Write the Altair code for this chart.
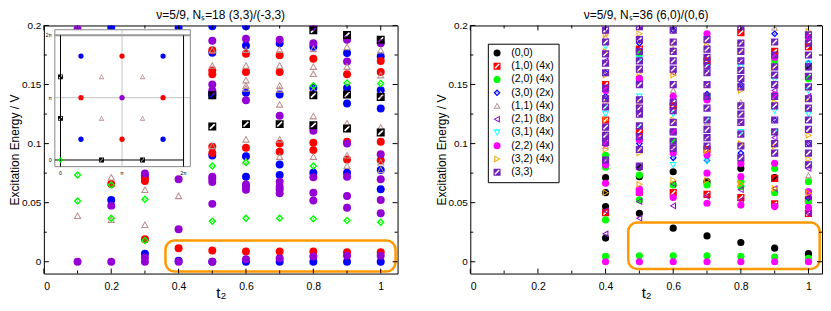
import altair as alt
import pandas as pd

FONT = "Liberation Sans"

# ---------------- tick positions ----------------
X_MAJOR = [0, 0.2, 0.4, 0.6, 0.8, 1.0]
X_MINOR = [0.1, 0.3, 0.5, 0.7, 0.9]
Y_MAJOR = [0, 0.05, 0.1, 0.15, 0.2]
Y_MINOR = [0.025, 0.075, 0.125, 0.175]

# ---------------- left panel: t2 -> excitation energies ----------------
L_BLUE = {0.2: [0.0523, 0.198], 0.3: [0.0068, 0.0726], 0.4: [0.0008, 0.198],
          0.5: [0.0, 0.090, 0.141, 0.143, 0.177, 0.1994],
          0.6: [0.0, 0.072, 0.0894, 0.143, 0.183, 0.1994],
          0.7: [0.0, 0.0734, 0.0824, 0.1415, 0.185],
          0.8: [0.0, 0.0754, 0.147, 0.182],
          0.9: [0.0, 0.0754, 0.134, 0.147, 0.1767],
          1.0: [0.0, 0.0613, 0.0776, 0.1297, 0.1451, 0.1738]}
L_RED = {0.2: [0.0658], 0.3: [0.0191, 0.0684, 0.0706], 0.4: [0.0115],
         0.5: [0.0096, 0.092, 0.0973, 0.1587, 0.162, 0.179],
         0.6: [0.0087, 0.0965, 0.1606, 0.176],
         0.7: [0.0087, 0.0931, 0.100, 0.1606, 0.1747],
         0.8: [0.0087, 0.0945, 0.1007, 0.1719],
         0.9: [0.008, 0.0866, 0.1015, 0.1587],
         1.0: [0.008, 0.086, 0.1015, 0.1606, 0.170]}
L_VIOLET = {0.1: [0.0, 0.197], 0.2: [0.0, 0.0475], 0.3: [0.0, 0.0037, 0.0748],
            0.4: [0.0, 0.0276, 0.0698],
            0.5: [0.0, 0.049, 0.0675, 0.070, 0.072, 0.145, 0.150, 0.187],
            0.6: [0.0022, 0.061, 0.0636, 0.0655, 0.1367, 0.1887],
            0.7: [0.003, 0.058, 0.0613, 0.0636, 0.0678, 0.1235, 0.188],
            0.8: [0.0045, 0.0518, 0.0585, 0.0715, 0.1108, 0.185, 0.199],
            0.9: [0.005, 0.0458, 0.0557, 0.072, 0.100, 0.1696, 0.188],
            1.0: [0.005, 0.041, 0.0523, 0.0698, 0.0911, 0.185]}
L_TRI = {0.1: [0.0388], 0.2: [0.0354, 0.0714], 0.3: [0.0312, 0.0608], 0.4: [0.0557],
         0.5: [0.098, 0.166, 0.179],
         0.6: [0.085, 0.1035, 0.1466, 0.149, 0.1536, 0.166, 0.1795],
         0.7: [0.0889, 0.1035, 0.133, 0.1457, 0.149, 0.166, 0.1795],
         0.8: [0.0889, 0.1232, 0.1451, 0.159, 0.165, 0.180],
         0.9: [0.0813, 0.090, 0.117, 0.1423, 0.165, 0.1817],
         1.0: [0.0776, 0.0841, 0.1136, 0.1418, 0.1578, 0.179]}
L_DIA = {0.1: [0.0515, 0.0734], 0.2: [0.0369, 0.065], 0.3: [0.018, 0.0529],
         0.5: [0.0343, 0.081], 0.6: [0.0369, 0.084], 0.7: [0.0369],
         0.8: [0.0363, 0.081, 0.149], 0.9: [0.0349, 0.1513], 1.0: [0.0335, 0.1508]}
L_SQ = {0.5: [0.1145, 0.141], 0.6: [0.1165], 0.7: [0.1165],
        0.8: [0.1156, 0.141, 0.196], 0.9: [0.1128, 0.1415, 0.192],
        1.0: [0.1094, 0.1395, 0.188]}

# ---------------- inset (Brillouin zone, units of pi) ----------------
INSET_BLUE = [(0.333, 1.667), (1.667, 1.667), (0.333, 0.333), (1.667, 0.333)]
INSET_RED = [(1.0, 1.667), (0.333, 1.0), (1.667, 1.0), (1.0, 0.333)]
INSET_VIOLET = [(1.0, 1.0)]
INSET_TRI = [(0.667, 1.333), (1.333, 1.333), (0.667, 0.667), (1.333, 0.667)]
INSET_SQ = [(0.0, 1.333), (0.0, 0.667), (0.667, 0.0), (1.333, 0.0)]
INSET_DIA = [(0.0, 0.0)]
INSET_LABELS = ["0", "π", "2π"]
INSET_LABEL_POS = [0, 1, 2]

# ---------------- right panel: t2 -> excitation energies ----------------
R_00 = {0.4: [0.020, 0.0467, 0.0585, 0.0712], 0.5: [0.041, 0.072, 0.080, 0.155],
        0.6: [0.0284, 0.0762], 0.7: [0.0219, 0.0678], 0.8: [0.0163, 0.079],
        0.9: [0.0115, 0.0712], 1.0: [0.0068, 0.0523, 0.165]}
R_10 = {0.4: [0.0416, 0.120, 0.150], 0.5: [0.059, 0.110, 0.180], 0.6: [0.0585, 0.132],
        0.7: [0.0571, 0.095, 0.170], 0.8: [0.0543, 0.194], 0.9: [0.049, 0.0705, 0.178],
        1.0: [0.041, 0.0523, 0.182]}
R_20 = {0.4: [0.0045, 0.0354, 0.080, 0.090], 0.5: [0.005, 0.0523, 0.0734, 0.176],
        0.6: [0.005, 0.065, 0.102], 0.7: [0.005, 0.065, 0.140], 0.8: [0.0045, 0.0636, 0.068],
        0.9: [0.004, 0.0585, 0.079, 0.170], 1.0: [0.0028, 0.051, 0.0678, 0.155]}
R_30 = {0.4: [0.140, 0.160], 0.5: [0.100, 0.185], 0.6: [0.088, 0.196], 0.7: [0.086, 0.142],
        0.8: [0.092, 0.150], 0.9: [0.193, 0.120], 1.0: [0.168, 0.100, 0.054]}
R_11 = {0.4: [0.098, 0.110, 0.190], 0.5: [0.095, 0.130], 0.6: [0.098, 0.145, 0.180],
        0.7: [0.118, 0.160], 0.8: [0.135, 0.185], 0.9: [0.198, 0.110], 1.0: [0.073, 0.130]}
R_21 = {0.4: [0.0236, 0.0433, 0.085, 0.145, 0.170], 0.5: [0.0369, 0.051, 0.125],
        0.6: [0.0473, 0.066, 0.110, 0.160], 0.7: [0.0555, 0.105, 0.150],
        0.8: [0.052, 0.061, 0.118, 0.170], 0.9: [0.062, 0.105, 0.145],
        1.0: [0.041, 0.0425, 0.055, 0.058, 0.079, 0.140]}
R_31 = {0.4: [0.125, 0.130, 0.182], 0.5: [0.140, 0.172, 0.115], 0.6: [0.082, 0.090, 0.125],
        0.7: [0.085, 0.165, 0.120], 0.8: [0.165, 0.110], 0.9: [0.154, 0.128, 0.110],
        1.0: [0.125, 0.145, 0.168]}
R_22 = {0.4: [0.0, 0.0664, 0.082, 0.145, 0.100], 0.5: [0.0, 0.0585, 0.0615, 0.155, 0.103],
        0.6: [0.0, 0.0543, 0.092, 0.110, 0.140], 0.7: [0.0, 0.0495, 0.075, 0.0903, 0.137, 0.193],
        0.8: [0.0, 0.048, 0.072, 0.083], 0.9: [0.0, 0.0467, 0.0833, 0.141, 0.173],
        1.0: [0.0, 0.046, 0.0593, 0.190]}
R_32 = {0.4: [0.0585, 0.095, 0.120, 0.135, 0.158, 0.178, 0.192],
        0.5: [0.0655, 0.092, 0.135, 0.160, 0.193], 0.6: [0.069, 0.120, 0.158, 0.185],
        0.7: [0.069, 0.094, 0.150, 0.183], 0.8: [0.066, 0.100, 0.145, 0.178],
        0.9: [0.062, 0.098, 0.135, 0.165], 1.0: [0.058, 0.087, 0.107, 0.138, 0.195]}
R_33 = {0.4: [0.196, 0.186, 0.176, 0.168, 0.160, 0.147, 0.138, 0.131, 0.114, 0.107, 0.101, 0.086],
        0.5: [0.199, 0.188, 0.178, 0.170, 0.163, 0.150, 0.137, 0.130, 0.125, 0.115, 0.106, 0.095, 0.081],
        0.6: [0.196, 0.186, 0.178, 0.170, 0.163, 0.150, 0.135, 0.128, 0.118, 0.110, 0.102, 0.096],
        0.7: [0.188, 0.180, 0.173, 0.166, 0.160, 0.150, 0.140, 0.130, 0.120, 0.112, 0.105, 0.098],
        0.8: [0.199, 0.185, 0.178, 0.170, 0.162, 0.155, 0.148, 0.132, 0.125, 0.118, 0.108, 0.098, 0.088],
        0.9: [0.186, 0.175, 0.165, 0.158, 0.150, 0.140, 0.132, 0.120, 0.110, 0.100, 0.092],
        1.0: [0.192, 0.185, 0.175, 0.165, 0.157, 0.148, 0.138, 0.130, 0.120, 0.112, 0.100, 0.092, 0.082]}

R_LABELS = ["(0,0)", "(1,0) (4x)", "(2,0) (4x)", "(3,0) (2x)", "(1,1) (4x)",
            "(2,1) (8x)", "(3,1) (4x)", "(2,2) (4x)", "(3,2) (4x)", "(3,3)"]

# highlighted low-energy regions (t2 from, t2 to, E from, E to)
LEFT_BOX = [0.361, 1.044, -0.0082, 0.018]
RIGHT_BOX = [0.467, 1.033, -0.0062, 0.0332]

# ---------------- symbols ----------------
SQ_HATCH = "M-1,-1H1V1H-1Z M-0.75,0.45L-0.45,0.75L0.75,-0.45L0.45,-0.75Z"
DIA_OPEN = "M0,-1L1,0L0,1L-1,0Z M0,-0.5L-0.5,0L0,0.5L0.5,0Z M0,-0.18L0.18,0L0,0.18L-0.18,0Z"
TRI_UP = "M0,-1L1,0.8L-1,0.8Z M0,-0.49L-0.55,0.5L0.55,0.5Z"
TRI_LEFT = "M-1,0L0.8,-1L0.8,1Z M-0.49,0L0.5,0.55L0.5,-0.55Z"
TRI_RIGHT = "M1,0L-0.8,1L-0.8,-1Z M0.49,0L-0.5,-0.55L-0.5,0.55Z"
TRI_DOWN = "M0,1L-1,-0.8L1,-0.8Z M0,0.49L0.55,-0.5L-0.55,-0.5Z"

W_L, W_R, H = 355, 353, 249
ORANGE = "#ff9900"


def to_long(series):
    rows = []
    i = 0
    for name, d in series:
        for t, vals in d.items():
            for e in vals:
                rows.append({"series": name, "t": t, "E": e, "idx": i})
                i += 1
    return pd.DataFrame(rows)


XS_L = alt.Scale(domain=[0, 1.05], nice=False, zero=False)
XS_R = alt.Scale(domain=[0, 1.04], nice=False, zero=False)
YS = alt.Scale(domain=[-0.01, 0.2], nice=False, zero=False)

x_axis = alt.Axis(values=X_MAJOR, format="~g", ticks=False, domain=False, grid=False,
                  labelPadding=8, labelFontSize=10.5, labelFont=FONT, labelColor="black",
                  title="t₂", titleFontSize=15, titleFont=FONT, titleFontWeight="normal",
                  titlePadding=-6, titleColor="black")
y_axis = alt.Axis(values=Y_MAJOR, format="~g", ticks=False, domain=False, grid=False,
                  labelPadding=3, labelFontSize=10, labelFont=FONT, labelColor="black",
                  title="Excitation Energy / V", titleFontSize=12, titleFont=FONT,
                  titleFontWeight="normal", titlePadding=0, titleColor="black",
                  minExtent=22, maxExtent=22)

TITLE_KW = dict(font=FONT, fontSize=12, fontWeight="normal", offset=-2, color="black",
                frame="group")


def tick_layers(W, XS):
    layers = []
    for vals, ln in [(X_MAJOR, 5), (X_MINOR, 3)]:
        df = pd.DataFrame({"v": vals})
        base = alt.Chart(df).mark_rule(color="black", strokeWidth=1)
        layers.append(base.encode(x=alt.X("v:Q", scale=XS), y=alt.value(0), y2=alt.value(ln)))
        layers.append(base.encode(x=alt.X("v:Q", scale=XS), y=alt.value(H), y2=alt.value(H - ln)))
    for vals, ln in [(Y_MAJOR, 5), (Y_MINOR, 3)]:
        df = pd.DataFrame({"v": vals})
        base = alt.Chart(df).mark_rule(color="black", strokeWidth=1)
        layers.append(base.encode(y=alt.Y("v:Q", scale=YS), x=alt.value(0), x2=alt.value(ln)))
        layers.append(base.encode(y=alt.Y("v:Q", scale=YS), x=alt.value(W), x2=alt.value(W - ln)))
    return layers


def box_layer(b, XS):
    df = pd.DataFrame({"x": [b[0]], "x2": [b[1]], "y": [b[2]], "y2": [b[3]]})
    return alt.Chart(df).mark_rect(fill="transparent", stroke=ORANGE, strokeWidth=2.5,
                                   cornerRadius=9).encode(
        x=alt.X("x:Q", scale=XS), x2="x2", y=alt.Y("y:Q", scale=YS), y2="y2")


# ---------------- left panel ----------------
left_series = [("blue", L_BLUE), ("red", L_RED), ("violet", L_VIOLET),
               ("tri", L_TRI), ("dia", L_DIA), ("sq", L_SQ)]
ldf = to_long(left_series)
left_pts = alt.Chart(ldf).mark_point(filled=True, strokeWidth=0, opacity=1, clip=True).encode(
    x=alt.X("t:Q", scale=XS_L, axis=x_axis),
    y=alt.Y("E:Q", scale=YS, axis=y_axis),
    color=alt.Color("series:N", legend=None,
                    scale=alt.Scale(domain=["blue", "red", "violet", "tri", "dia", "sq"],
                                    range=["#0000ff", "#ff0000", "#9400d3", "#bc8f8f", "#00ff00", "#000000"])),
    shape=alt.Shape("series:N", legend=None,
                    scale=alt.Scale(domain=["blue", "red", "violet", "tri", "dia", "sq"],
                                    range=["circle", "circle", "circle", TRI_UP, DIA_OPEN, SQ_HATCH])),
    size=alt.value(64),
    order=alt.Order("idx:Q"),
)
left_main = alt.layer(left_pts, box_layer(LEFT_BOX, XS_L), *tick_layers(W_L, XS_L))

IX = alt.Scale(domain=[-0.092, 2.11], range=[11, 147], nice=False, zero=False)
IY = alt.Scale(domain=[-0.107, 2.09], range=[141.7, 4.3], nice=False, zero=False)


def inset_rule(x, x2, y, y2, color, sw):
    df = pd.DataFrame({"x": [x], "x2": [x2], "y": [y], "y2": [y2]})
    return alt.Chart(df).mark_rule(color=color, strokeWidth=sw).encode(
        x=alt.X("x:Q", scale=IX, axis=None), x2="x2",
        y=alt.Y("y:Q", scale=IY, axis=None), y2="y2")


inset_frame = alt.Chart(pd.DataFrame({"x": [-0.092], "x2": [2.11], "y": [-0.107], "y2": [2.09]})).mark_rect(
    fill="white", stroke="#888888", strokeWidth=1).encode(
    x=alt.X("x:Q", scale=IX, axis=None), x2="x2", y=alt.Y("y:Q", scale=IY, axis=None), y2="y2")

inset_lines = [
    inset_rule(1, 1, -0.107, 2.09, "#aaaaaa", 0.7),
    inset_rule(-0.092, 2.11, 1, 1, "#aaaaaa", 0.7),
    inset_rule(-0.092, 2.11, 2, 2, "#999999", 2),
    inset_rule(0, 0, -0.107, 2.0, "black", 1),
    inset_rule(2, 2, -0.107, 2.0, "black", 1),
    inset_rule(-0.092, 2.0, 0, 0, "black", 1),
]


def inset_pts(pts, color, shape, size):
    df = pd.DataFrame(pts, columns=["kx", "ky"])
    return alt.Chart(df).mark_point(filled=True, strokeWidth=0, opacity=1, color=color,
                                    shape=shape, size=size).encode(
        x=alt.X("kx:Q", scale=IX, axis=None), y=alt.Y("ky:Q", scale=IY, axis=None))


inset_marks = [
    inset_pts(INSET_BLUE, "#0000ff", "circle", 28),
    inset_pts(INSET_RED, "#ff0000", "circle", 28),
    inset_pts(INSET_VIOLET, "#9400d3", "circle", 28),
    inset_pts(INSET_TRI, "#bc8f8f", TRI_UP, 32),
    inset_pts(INSET_SQ, "#000000", SQ_HATCH, 24),
    inset_pts(INSET_DIA, "#00ff00", DIA_OPEN, 30),
]
lab_df = pd.DataFrame({"p": INSET_LABEL_POS, "lab": INSET_LABELS})
inset_xlab = alt.Chart(lab_df).mark_text(fontSize=5, font=FONT, baseline="top", dy=4).encode(
    x=alt.X("p:Q", scale=IX, axis=None), y=alt.value(141.7), text="lab:N")
inset_ylab = alt.Chart(lab_df).mark_text(fontSize=5, font=FONT, align="right", dx=-3).encode(
    y=alt.Y("p:Q", scale=IY, axis=None), x=alt.value(11), text="lab:N")

inset = alt.layer(inset_frame, *inset_lines, *inset_marks, inset_xlab, inset_ylab)

left = alt.layer(left_main, inset).resolve_scale(x="independent", y="independent").properties(
    width=W_L, height=H, title=alt.Title("ν=5/9, Nₛ=18 (3,3)/(-3,3)", **TITLE_KW))

# ---------------- right panel ----------------
right_series = list(zip(R_LABELS, [R_00, R_10, R_20, R_30, R_11, R_21, R_31, R_22, R_32, R_33]))
rdf = to_long(right_series)
R_COLORS = ["#000000", "#ff0000", "#00ff00", "#0000ff", "#bc8f8f",
            "#9400d3", "#00ffff", "#ff00ff", "#ffa500", "#7221bc"]
R_SHAPES = ["circle", SQ_HATCH, "circle", DIA_OPEN, TRI_UP,
            TRI_LEFT, TRI_DOWN, "circle", TRI_RIGHT, SQ_HATCH]
leg = alt.Legend(orient="none", legendX=17.6, legendY=18.3, title=None,
                 strokeColor="black", fillColor="white", padding=4,
                 labelFont=FONT, labelFontSize=10.5, labelColor="black",
                 symbolStrokeWidth=0, symbolSize=50, rowPadding=2.3, labelOffset=9,
                 symbolType="circle")
right_pts = alt.Chart(rdf).mark_point(filled=True, strokeWidth=0, opacity=1, clip=True).encode(
    x=alt.X("t:Q", scale=XS_R, axis=x_axis),
    y=alt.Y("E:Q", scale=YS, axis=y_axis),
    color=alt.Color("series:N", legend=leg, scale=alt.Scale(domain=R_LABELS, range=R_COLORS)),
    shape=alt.Shape("series:N", legend=leg, scale=alt.Scale(domain=R_LABELS, range=R_SHAPES)),
    size=alt.value(52),
    order=alt.Order("idx:Q"),
)
right = alt.layer(right_pts, box_layer(RIGHT_BOX, XS_R), *tick_layers(W_R, XS_R)).properties(
    width=W_R, height=H, title=alt.Title("ν=5/9, Nₛ=36 (6,0)/(0,6)", **TITLE_KW))

chart = alt.hconcat(left, right, spacing=36).resolve_scale(
    color="independent", shape="independent").resolve_legend(
    color="independent", shape="independent").properties(
    padding={"left": 0, "top": 0, "right": 0, "bottom": 0}, background="white"
).configure_view(stroke="black", strokeWidth=1)

chart.save("out.html", embed_options={"renderer": "svg", "actions": False})
